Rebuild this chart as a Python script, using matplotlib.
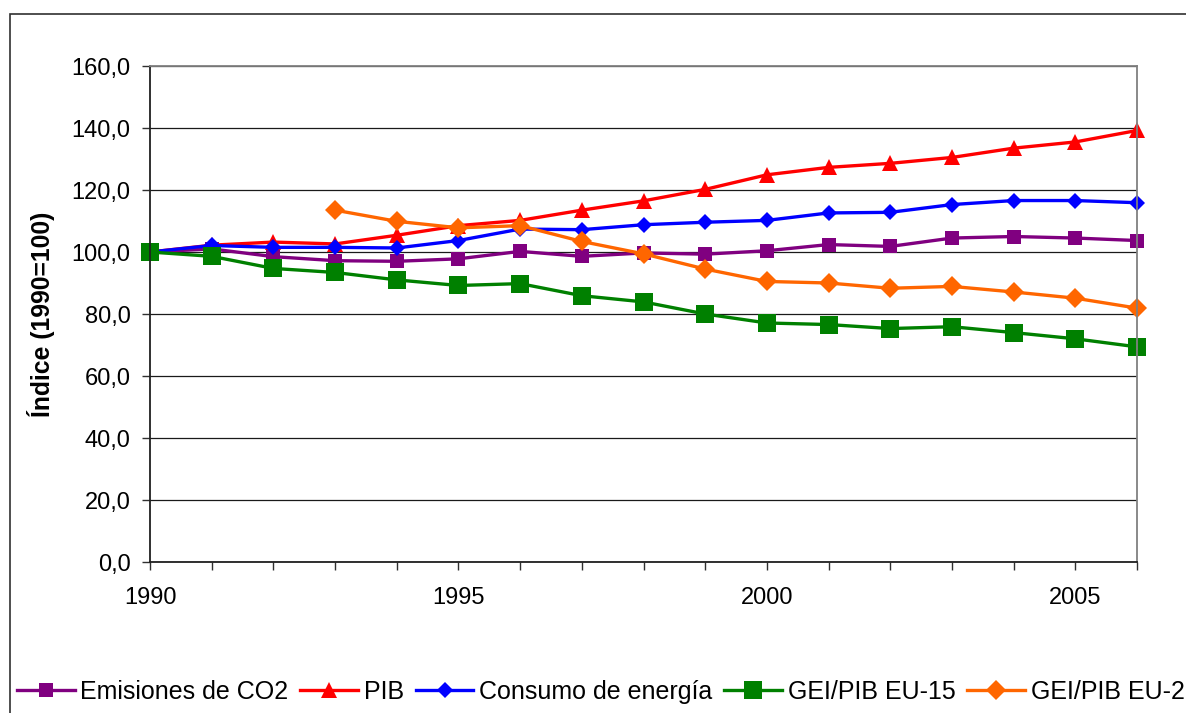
import matplotlib
matplotlib.use("Agg")
import matplotlib.pyplot as plt
from matplotlib.patches import Rectangle
from matplotlib.ticker import FixedLocator, FuncFormatter

plt.rcParams['font.family'] = ['Liberation Sans', 'DejaVu Sans']

# index series, 1990 = 100
years = list(range(1990, 2007))
emisiones_co2 = [100.0, 101.0, 98.5, 97.2, 97.0, 97.8, 100.2, 98.6, 99.7, 99.3,
                 100.4, 102.4, 101.8, 104.5, 105.0, 104.5, 103.7]
pib = [100.0, 102.2, 103.2, 102.6, 105.4, 108.5, 110.2, 113.5, 116.5, 120.2,
       124.9, 127.3, 128.6, 130.5, 133.5, 135.5, 139.2]
consumo_energia = [100.0, 102.1, 101.5, 101.5, 101.3, 103.7, 107.4, 107.2, 108.8, 109.6,
                   110.2, 112.6, 112.8, 115.3, 116.6, 116.6, 115.9]
gei_pib_eu15 = [100.0, 98.6, 94.7, 93.4, 91.0, 89.2, 89.8, 85.9, 83.9, 80.0,
                77.1, 76.6, 75.3, 75.9, 74.0, 72.0, 69.4]
years_eu27 = list(range(1993, 2007))
gei_pib_eu27 = [113.5, 109.9, 107.8, 108.5, 103.4, 99.4, 94.5, 90.5, 90.0, 88.3,
                88.9, 87.1, 85.1, 81.9]

yticks = [0, 20, 40, 60, 80, 100, 120, 140, 160]
xlabels = [1990, 1995, 2000, 2005]

fig = plt.figure(figsize=(11.86, 7.13), dpi=100)
ax = fig.add_axes([150 / 1186, 1 - 562 / 713, 987 / 1186, 496 / 713])

# outer chart frame (only top and left edges fall inside the image)
fig.add_artist(Rectangle((10 / 1186, -0.2), 1.5, 1.2 - 14 / 713,
                         transform=fig.transFigure, fill=False,
                         edgecolor='#303030', linewidth=1.2))

lw = 2.4
ax.plot(years, emisiones_co2, color='#800080', lw=lw, marker='s', ms=10.5,
        mew=0, label='Emisiones de CO2', clip_on=False)
ax.plot(years, pib, color='#FF0000', lw=lw, marker='^', ms=11.5,
        mew=0, label='PIB', clip_on=False)
ax.plot(years, consumo_energia, color='#0000FF', lw=lw, marker='D', ms=7.8,
        mew=0, label='Consumo de energía', clip_on=False)
ax.plot(years, gei_pib_eu15, color='#008000', lw=lw, marker='s', ms=12.5,
        mew=0, label='GEI/PIB EU-15', clip_on=False)
ax.plot(years_eu27, gei_pib_eu27, color='#FF6600', lw=lw, marker='D', ms=10,
        mew=0, label='GEI/PIB EU-27', clip_on=False)

ax.set_xlim(1990, 2006)
ax.set_ylim(0, 160)
ax.yaxis.set_major_locator(FixedLocator(yticks))
ax.yaxis.set_major_formatter(FuncFormatter(lambda v, p: f"{v:.1f}".replace('.', ',')))
ax.xaxis.set_major_locator(FixedLocator(xlabels))
ax.xaxis.set_minor_locator(FixedLocator(years))
ax.tick_params(axis='both', which='both', direction='out', length=6,
               width=1, color='#303030', labelsize=17)
ax.tick_params(axis='x', which='both', pad=12)
ax.tick_params(axis='y', pad=8)

ax.grid(axis='y', color='#1a1a1a', linewidth=0.9)
ax.set_axisbelow(True)
for side in ('left', 'bottom'):
    ax.spines[side].set_color('#202020')
    ax.spines[side].set_linewidth(1.3)
for side in ('top', 'right'):
    ax.spines[side].set_color('#808080')
    ax.spines[side].set_linewidth(1.3)

ax.set_ylabel('Índice (1990=100)', fontsize=17.8, fontweight='bold', labelpad=12)

fig.legend(loc='center left', bbox_to_anchor=(17 / 1186, 1 - 692 / 713),
           ncol=5, frameon=False, fontsize=18, handlelength=2.3,
           handletextpad=0.24, columnspacing=0.47, borderpad=0,
           borderaxespad=0)

fig.savefig('out.png', dpi=100)
